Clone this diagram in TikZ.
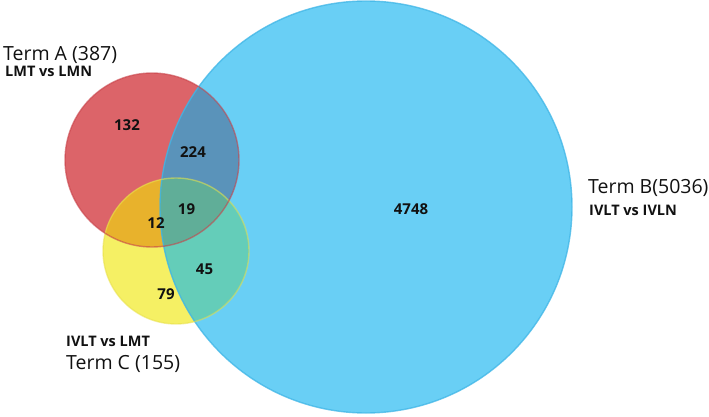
\documentclass[tikz,border=0pt]{standalone}
\usepackage{fontspec}
\setmainfont{Open Sans}
\definecolor{cRed}{HTML}{DC6469}
\definecolor{cYel}{HTML}{F5F064}
\definecolor{cBlue}{HTML}{69CFF5}
\definecolor{cRB}{HTML}{5A93BA}
\definecolor{cRY}{HTML}{E8B22C}
\definecolor{cYB}{HTML}{64CDB9}
\definecolor{cRYB}{HTML}{60AE98}
\definecolor{eRed}{HTML}{C8434A}
\definecolor{eYel}{HTML}{E8E04A}
\definecolor{eBlue}{HTML}{3FB5E6}
\definecolor{txt}{HTML}{111111}
\begin{document}
\begin{tikzpicture}[x=1pt,y=-1pt,
  term/.style={anchor=base west,inner sep=0pt,text=txt,font=\fontsize{19.5}{21}\selectfont},
  cmp/.style={anchor=base west,inner sep=0pt,text=txt,font=\fontsize{14.5}{16}\selectfont\bfseries},
  num/.style={anchor=center,inner sep=0pt,text=txt,font=\fontsize{15}{17}\selectfont\bfseries},
  edge/.style={line width=1.4pt,opacity=0.75}]
\useasboundingbox (0,0) rectangle (709,417);
% base fills
\fill[cRed] (152,160) circle (87);
\fill[cYel] (176,251) circle (73);
\fill[cBlue] (366,207) circle (206);
% pairwise overlaps
\begin{scope}\clip (152,160) circle (87); \fill[cRY] (176,251) circle (73);\end{scope}
\begin{scope}\clip (152,160) circle (87); \fill[cRB] (366,207) circle (206);\end{scope}
\begin{scope}\clip (176,251) circle (73); \fill[cYB] (366,207) circle (206);\end{scope}
\begin{scope}\clip (152,160) circle (87); \clip (176,251) circle (73); \fill[cRYB] (366,207) circle (206);\end{scope}
% outlines
\draw[edge,eBlue] (366,207) circle (206);
\draw[edge,eYel,opacity=0.55] (176,251) circle (73);
\draw[edge,eRed,opacity=0.6] (152,160) circle (87);
% labels
\node[term] (ta) at (3,61) {Term A (387)};
\node[cmp] (ca) at (5,77) {LMT vs LMN};
\node[term] (tb) at (588,193) {Term B(5036)};
\node[cmp] (cb) at (589,215) {IVLT vs IVLN};
\node[cmp] (cc) at (66,346) {IVLT vs LMT};
\node[term] (tc) at (66,369) {Term C (155)};
% numbers
\node[num] (n132) at (127,125) {132};
\node[num] (n224) at (193,152) {224};
\node[num] (n19) at (186.5,209) {19};
\node[num] (n12) at (156,223) {12};
\node[num] (n45) at (204.5,269) {45};
\node[num] (n79) at (166,294.5) {79};
\node[num] (n4748) at (411,209.5) {4748};
\end{tikzpicture}
\end{document}
